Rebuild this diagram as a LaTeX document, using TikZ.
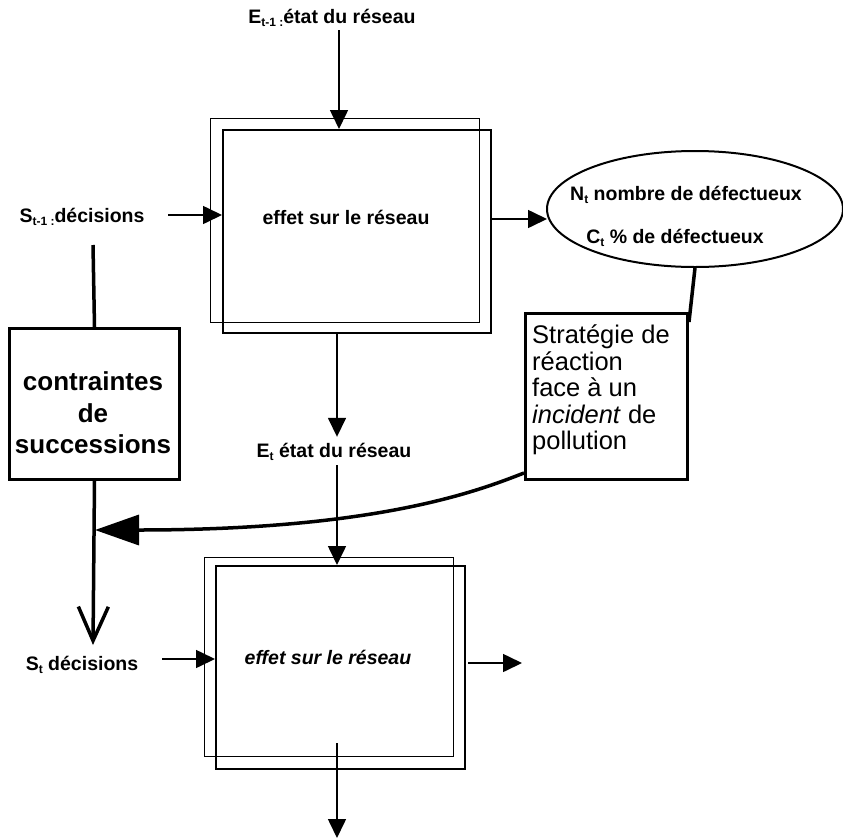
\documentclass[tikz,border=0pt]{standalone}
\usepackage{fontspec}
\setmainfont{Liberation Sans}
\usetikzlibrary{arrows.meta,shapes.geometric}
\newcommand{\sbs}[1]{\raisebox{-0.35ex}{\fontsize{12}{12}\selectfont #1}}
\begin{document}
\begin{tikzpicture}[x=1pt,y=-1pt,
  lbl/.style={font=\fontsize{19.5}{22}\selectfont\bfseries, inner sep=0},
  frontbox/.style={draw, line width=2pt, anchor=north west, inner sep=0},
  backbox/.style={draw, line width=1.3pt, anchor=north west, inner sep=0},
  arr/.style={line width=1.6pt, -{Triangle[length=19pt,width=18pt]}},
  heavy/.style={line width=3.5pt}
]
\useasboundingbox (0,0) rectangle (843,838);
% first effect box
\node[backbox, minimum width=269pt, minimum height=204pt] (b1b) at (210,118) {};
\node[frontbox, minimum width=268pt, minimum height=203pt] (b1) at (222,129) {};
\node[lbl] (t1) at (346,217) {effet sur le réseau};
% labels
\node[lbl] (E1) at (332,18) {E\sbs{t-1 :}état du réseau};
\node[lbl] (S1) at (82,217) {S\sbs{t-1 :}décisions};
% ellipse
\node[ellipse, draw, line width=2pt, minimum width=296pt, minimum height=116pt, inner sep=0] (ell) at (695,209) {};
\node[lbl] (n1) at (686,195) {N\sbs{t} nombre de défectueux};
\node[lbl] (n2) at (675,238) {C\sbs{t} \% de défectueux};
% contraintes
\node[draw, line width=3pt, anchor=north west, minimum width=170pt, minimum height=151pt, inner sep=0] (contr) at (8,327) {};
\node[align=center, inner sep=0, font=\fontsize{26}{31.5}\selectfont\bfseries] (ctext) at (93,413) {contraintes\\de\\successions};
% strategie
\node[draw, line width=3pt, anchor=north west, minimum width=162pt, minimum height=166pt, inner sep=0] (strat) at (524,312) {};
\node[align=left, anchor=north west, inner sep=0, font=\fontsize{25.5}{26.5}\selectfont] (stext) at (532,325) {Stratégie de\\réaction\\face à un\\\textit{incident} de\\pollution};
% second level
\node[lbl] (E2) at (334,452) {E\sbs{t} état du réseau};
\node[lbl] (S2) at (82,665) {S\sbs{t} décisions};
\node[backbox, minimum width=249pt, minimum height=199pt] (b2b) at (204,557) {};
\node[frontbox, minimum width=249pt, minimum height=203pt] (b2) at (215,565) {};
\node[lbl, font=\fontsize{19.5}{22}\selectfont\bfseries\itshape] (t2) at (328,657) {effet sur le réseau};
% coordinates
\coordinate (a1) at (339,30);
\coordinate (s1a) at (168,215);
\coordinate (r1) at (490,219);
\coordinate (mx) at (337,0);
\coordinate (s2a) at (162,659);
\coordinate (r2) at (468,663);
\coordinate (r2e) at (522,663);
\coordinate (bo1) at (337,743);
\coordinate (bo2) at (337,838);
\coordinate (vtop) at (93,245);
\coordinate (vtip) at (93,645);
\coordinate (join) at (95,530);
% thin arrows
\draw[arr] (a1) -- (a1 |- b1.north);
\draw[arr] (s1a) -- (s1a -| b1.west);
\draw[arr] (r1) -- ([xshift=1pt]r1 -| ell.west);
\draw[arr] (mx |- b1.south) -- ([yshift=6pt]mx |- E2.north);
\draw[arr] ([yshift=-4pt]mx |- E2.south) -- (mx |- b2.north);
\draw[arr] (s2a) -- (s2a -| b2.west);
\draw[arr] (r2) -- (r2e);
\draw[arr] (bo1) -- (bo2);
% heavy connectors
\draw[heavy] (vtop) -- (contr.north);
\draw[heavy, -{Straight Barb[length=34pt,width=30pt]}] (contr.south) -- (vtip);
\draw[heavy, -{Triangle[length=44pt,width=30pt]}] ([yshift=8pt]strat.south west) .. controls (480,490) and (380,530) .. (join);
\draw[heavy] (ell.south) -- ([yshift=-10pt]strat.north east);
\end{tikzpicture}
\end{document}
